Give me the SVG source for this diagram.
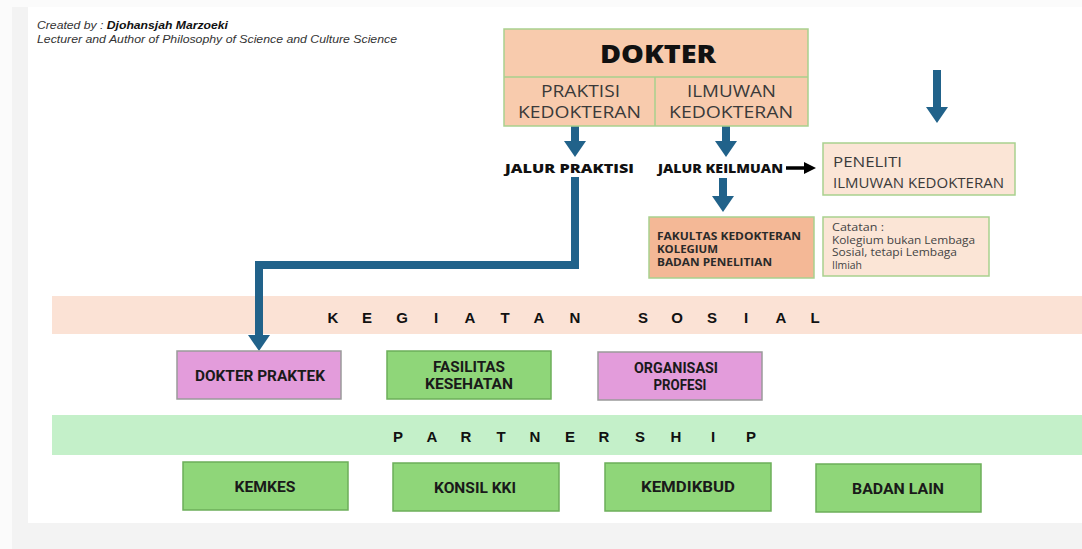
<svg xmlns="http://www.w3.org/2000/svg" width="1082" height="549" viewBox="0 0 1082 549">
  <defs>
    <style>
      .hdr { font-family: "Liberation Sans", Arial, sans-serif; font-size: 10.5px; font-style: italic; fill: #333; }
      .peach { fill: #f8cbad; stroke: #a9d18e; stroke-width: 1.5; }
      .light { fill: #fbe5d6; stroke: #a9d18e; stroke-width: 1.5; }
      .orange { fill: #f4b896; stroke: #a9d18e; stroke-width: 1.5; }
      .pink { fill: #e39cdb; stroke: #9a9a9a; stroke-width: 1.5; }
      .green { fill: #8fd679; stroke: #6cae5a; stroke-width: 1.5; }
      .os { font-family: "Open Sans", "Liberation Sans", sans-serif; fill: #3a3a3a; }
      .jal { font-family: "Open Sans", "Liberation Sans", sans-serif; font-weight: 800; font-size: 13px; fill: #111; }
      .band { font-family: "Liberation Sans", Arial, sans-serif; font-weight: 700; font-size: 15px; fill: #111; text-anchor: middle; }
      .box { font-family: "Roboto", "Liberation Sans", sans-serif; font-weight: 700; font-size: 14.5px; fill: #1a1a1a; text-anchor: middle; }
      .flow { fill: none; stroke: #21628a; stroke-width: 8; }
    </style>
    <marker id="head" markerUnits="userSpaceOnUse" markerWidth="16" markerHeight="22" refX="0" refY="11" orient="auto">
      <path d="M0 0 L16 11 L0 22 z" fill="#21628a"/>
    </marker>
    <marker id="headBlack" markerUnits="userSpaceOnUse" markerWidth="12" markerHeight="12" refX="0" refY="6" orient="auto">
      <path d="M0 0 L12 6 L0 12 z" fill="#000"/>
    </marker>
  </defs>

  <!-- page backdrop -->
  <rect x="0" y="0" width="1082" height="549" fill="#fbfbfb"/>
  <rect x="12" y="7" width="1070" height="542" fill="#f3f3f3"/>
  <rect x="28" y="7" width="1054" height="516" fill="#ffffff"/>

  <!-- credits -->
  <text class="hdr" x="37" y="29" textLength="191" lengthAdjust="spacingAndGlyphs">Created by : <tspan font-weight="700" fill="#111">Djohansjah Marzoeki</tspan></text>
  <text class="hdr" x="37" y="43" textLength="360" lengthAdjust="spacingAndGlyphs">Lecturer and Author of Philosophy of Science and Culture Science</text>

  <!-- bands -->
  <g id="band-sosial">
    <rect x="52" y="296" width="1030" height="38" fill="#fbe2d5"/>
    <text class="band" y="323" x="333 367 402 436 470 505 539 575 643 677 712 746 781 815">KEGIATANSOSIAL</text>
  </g>
  <g id="band-partnership">
    <rect x="52" y="415" width="1030" height="40" fill="#c4f0c9"/>
    <text class="band" y="442" x="398 432 466 501 535 570 604 640 676 713 751">PARTNERSHIP</text>
  </g>

  <!-- connectors -->
  <g id="connectors">
    <path class="flow" d="M575 126 V141" marker-end="url(#head)"/>
    <path class="flow" d="M726 126 V141" marker-end="url(#head)"/>
    <path class="flow" d="M723 178 V196" marker-end="url(#head)"/>
    <path class="flow" d="M937 70 V107" marker-end="url(#head)"/>
    <path class="flow" d="M575 177 V265 H259 V335" marker-end="url(#head)"/>
    <path d="M786 168 H804" stroke="#000" stroke-width="3.5" fill="none" marker-end="url(#headBlack)"/>
  </g>

  <!-- DOKTER -->
  <g id="dokter">
    <rect class="peach" x="504" y="29" width="304" height="97"/>
    <line x1="504" y1="77" x2="808" y2="77" stroke="#a9d18e" stroke-width="1.5"/>
    <line x1="655" y1="77" x2="655" y2="126" stroke="#a9d18e" stroke-width="1.5"/>
    <text class="os" x="600" y="63" font-size="25" font-weight="800" style="fill:#111" textLength="116" lengthAdjust="spacingAndGlyphs">DOKTER</text>
    <text class="os" x="541" y="97" font-size="16" textLength="79" lengthAdjust="spacingAndGlyphs">PRAKTISI</text>
    <text class="os" x="518" y="118" font-size="16" textLength="123" lengthAdjust="spacingAndGlyphs">KEDOKTERAN</text>
    <text class="os" x="687" y="97" font-size="16" textLength="89" lengthAdjust="spacingAndGlyphs">ILMUWAN</text>
    <text class="os" x="669" y="118" font-size="16" textLength="124" lengthAdjust="spacingAndGlyphs">KEDOKTERAN</text>
  </g>

  <!-- path labels -->
  <g id="jalur-praktisi">
    <text class="jal" x="505" y="173" textLength="129" lengthAdjust="spacingAndGlyphs">JALUR PRAKTISI</text>
  </g>
  <g id="jalur-keilmuan">
    <text class="jal" x="658" y="173" textLength="125" lengthAdjust="spacingAndGlyphs">JALUR KEILMUAN</text>
  </g>

  <!-- researcher -->
  <g id="peneliti">
    <rect class="light" x="823" y="143" width="192" height="52"/>
    <text class="os" x="833" y="167" font-size="14" textLength="69" lengthAdjust="spacingAndGlyphs">PENELITI</text>
    <text class="os" x="833" y="188" font-size="14" textLength="171" lengthAdjust="spacingAndGlyphs">ILMUWAN KEDOKTERAN</text>
  </g>

  <g id="fakultas">
    <rect class="orange" x="649" y="217" width="165" height="61"/>
    <text class="os" x="657" y="240" font-size="10.5" font-weight="700" style="fill:#2a2a2a" textLength="144" lengthAdjust="spacingAndGlyphs">FAKULTAS KEDOKTERAN</text>
    <text class="os" x="657" y="253" font-size="10.5" font-weight="700" style="fill:#2a2a2a" textLength="61" lengthAdjust="spacingAndGlyphs">KOLEGIUM</text>
    <text class="os" x="657" y="266" font-size="10.5" font-weight="700" style="fill:#2a2a2a" textLength="115" lengthAdjust="spacingAndGlyphs">BADAN PENELITIAN</text>
  </g>

  <g id="catatan">
    <rect class="light" x="823" y="217" width="166" height="59"/>
    <text class="os" x="832" y="231" font-size="10.5" style="fill:#444" textLength="52" lengthAdjust="spacingAndGlyphs">Catatan :</text>
    <text class="os" x="832" y="244" font-size="10.5" style="fill:#444" textLength="143" lengthAdjust="spacingAndGlyphs">Kolegium bukan Lembaga</text>
    <text class="os" x="832" y="256" font-size="10.5" style="fill:#444" textLength="125" lengthAdjust="spacingAndGlyphs">Sosial, tetapi Lembaga</text>
    <text class="os" x="832" y="269" font-size="10.5" style="fill:#444" textLength="30" lengthAdjust="spacingAndGlyphs">Ilmiah</text>
  </g>

  <!-- social activity row -->
  <g id="dokter-praktek">
    <rect class="pink" x="177" y="351" width="164" height="48"/>
    <text class="box" x="260" y="381" textLength="130" lengthAdjust="spacingAndGlyphs">DOKTER PRAKTEK</text>
  </g>
  <g id="fasilitas-kesehatan">
    <rect class="green" x="387" y="351" width="164" height="48"/>
    <text class="box" x="469" y="372" textLength="72" lengthAdjust="spacingAndGlyphs">FASILITAS</text>
    <text class="box" x="469" y="389" textLength="88" lengthAdjust="spacingAndGlyphs">KESEHATAN</text>
  </g>
  <g id="organisasi-profesi">
    <rect class="pink" x="598" y="352" width="164" height="48"/>
    <text class="box" x="676" y="373" textLength="84" lengthAdjust="spacingAndGlyphs">ORGANISASI</text>
    <text class="box" x="680" y="390" textLength="53" lengthAdjust="spacingAndGlyphs">PROFESI</text>
  </g>

  <!-- partnership row -->
  <g id="kemkes">
    <rect class="green" x="183" y="462" width="165" height="48"/>
    <text class="box" x="265" y="492" textLength="61" lengthAdjust="spacingAndGlyphs">KEMKES</text>
  </g>
  <g id="konsil-kki">
    <rect class="green" x="393" y="463" width="166" height="48"/>
    <text class="box" x="475" y="493" textLength="82" lengthAdjust="spacingAndGlyphs">KONSIL KKI</text>
  </g>
  <g id="kemdikbud">
    <rect class="green" x="605" y="463" width="166" height="48"/>
    <text class="box" x="688" y="492" textLength="94" lengthAdjust="spacingAndGlyphs">KEMDIKBUD</text>
  </g>
  <g id="badan-lain">
    <rect class="green" x="816" y="464" width="165" height="48"/>
    <text class="box" x="898" y="494" textLength="92" lengthAdjust="spacingAndGlyphs">BADAN LAIN</text>
  </g>
</svg>
